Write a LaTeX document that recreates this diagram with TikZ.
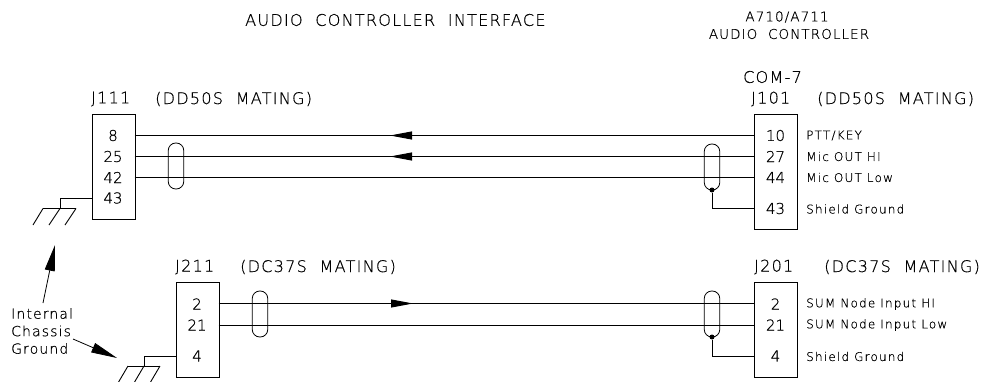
\documentclass[tikz,border=0pt]{standalone}
\usepackage{fontspec}
\setmainfont{DejaVu Sans ExtraLight}[FakeBold=0.5]
\newfontfamily\cadfont[LetterSpace=8,FakeBold=0.5]{DejaVu Sans ExtraLight}
\newfontfamily\sigfont[LetterSpace=10,FakeBold=0.5]{DejaVu Sans ExtraLight}
\usetikzlibrary{arrows.meta}
\tikzset{
 x=1pt,y=-1pt,
 wire/.style={line width=0.9pt,line join=miter},
 pbox/.style={draw,line width=0.9pt,minimum width=42.5pt,inner sep=0,anchor=north west},
 lab/.style={inner sep=0,anchor=west,font=\cadfont\fontsize{16}{16}\selectfont},
 sublab/.style={inner sep=0,anchor=center,font=\cadfont\fontsize{13.5}{13.5}\selectfont},
 pin/.style={inner sep=0,font=\fontsize{15}{15}\selectfont},
 sig/.style={inner sep=0,anchor=west,font=\sigfont\fontsize{12}{12}\selectfont},
 shield/.style={draw,line width=0.8pt,rounded corners=7.5pt,minimum width=15.5pt,inner sep=0},
 head/.style={-{Triangle[length=22pt,width=8pt]},line width=0.9pt},
 bighead/.style={-{Triangle[length=26pt,width=10pt]},line width=0.8pt},
 dot/.style={circle,fill,inner sep=0,minimum size=5pt},
}
\begin{document}
\begin{tikzpicture}
\useasboundingbox (0,0) rectangle (992,382);
\node[lab] at (245,20) {AUDIO\ \ CONTROLLER\ \ INTERFACE};
\node[sublab] (t1) at (787,17) {A710/A711};
\node[sublab] (t2) at (789,34) {AUDIO\ \ CONTROLLER};
\node[lab] at (743,77) {COM-7};
\node[lab] at (91,99) {J111};
\node[lab] at (155,99) {(DD50S\ \ MATING)};
\node[lab] at (751,99) {J101};
\node[lab] at (817,99) {(DD50S\ \ MATING)};
\node[lab] at (175,267) {J211};
\node[lab] at (240,267) {(DC37S\ \ MATING)};
\node[lab] at (754,267) {J201};
\node[lab] at (824,267) {(DC37S\ \ MATING)};
%
\node[pbox,minimum height=105pt] (j111) at (92,114) {};
\node[pbox,minimum height=115pt] (j101) at (754,114) {};
\node[pbox,minimum height=95pt] (j211) at (176,282) {};
\node[pbox,minimum height=95pt] (j201) at (754,282) {};
%
\foreach \n/\t/\y in {a/8/135.5,b/25/156.5,c/42/177.5,d/43/198}{\node[pin] (l\n) at (113,\y) {\t};}
\foreach \n/\t/\y in {a/10/135.5,b/27/156.5,c/44/177.5,d/43/208.5}{\node[pin] (r\n) at (775.5,\y) {\t};}
\foreach \n/\t/\y in {a/2/304,b/21/325,c/4/356}{\node[pin] (m\n) at (197,\y) {\t};}
\foreach \n/\t/\y in {a/2/304,b/21/325,c/4/356}{\node[pin] (s\n) at (775.5,\y) {\t};}
%
\node[sig] at (806,135.5) {PTT/KEY};
\node[sig] at (806,156.5) {Mic OUT HI};
\node[sig] at (806,177.5) {Mic OUT Low};
\node[sig] at (806,209) {Shield Ground};
\node[sig] at (806,304) {SUM Node Input HI};
\node[sig] at (806,325) {SUM Node Input Low};
\node[sig] at (806,356.5) {Shield Ground};
%
\foreach \y in {135.5,156.5,177.5}{\draw[wire] (134.5,\y) -- (754,\y);}
\foreach \y in {303.5,325}{\draw[wire] (218.5,\y) -- (754,\y);}
\coordinate (a1) at (412,135.5);\coordinate (a1t) at (390,135.5);
\coordinate (a2) at (412,156.5);\coordinate (a2t) at (390,156.5);
\coordinate (a3) at (391,303.5);\coordinate (a3t) at (413,303.5);
\draw[head] (a1) -- (a1t);
\draw[head] (a2) -- (a2t);
\draw[head] (a3) -- (a3t);
%
\node[shield,minimum height=46pt] (s1) at (176,166) {};
\node[shield,minimum height=46pt] (s2) at (712,167) {};
\node[shield,minimum height=46pt] (s3) at (260,314) {};
\node[shield,minimum height=46pt] (s4) at (712,314) {};
\node[dot] (d1) at (712,190) {};
\node[dot] (d2) at (712,337) {};
\draw[wire] (d1) |- (754,208.5);
\draw[wire] (d2) |- (754,356);
%
\draw[wire] (92,198) -| (60,208.5);
\draw[wire] (43,208.5) -- (76,208.5);
\draw[wire] (43,208.5) -- (33,225) (60,208.5) -- (49,225) (76,208.5) -- (65,225);
\draw[wire] (176,356) -| (144,366);
\draw[wire] (128,366) -- (160,366);
\draw[wire] (128,366) -- (118,383) (144,366) -- (134,383) (160,366) -- (150,383);
%
\node[inner sep=0,anchor=west,font=\cadfont\fontsize{14}{17.5}\selectfont,align=left] (icg) at (11,331) {Internal\\Chassis\\Ground};
\coordinate (g1) at (55,245);\coordinate (g2) at (117,358);
\draw[bighead] (43,303) -- (g1);
\draw[bighead] (73,339) -- (g2);
\end{tikzpicture}
\end{document}
